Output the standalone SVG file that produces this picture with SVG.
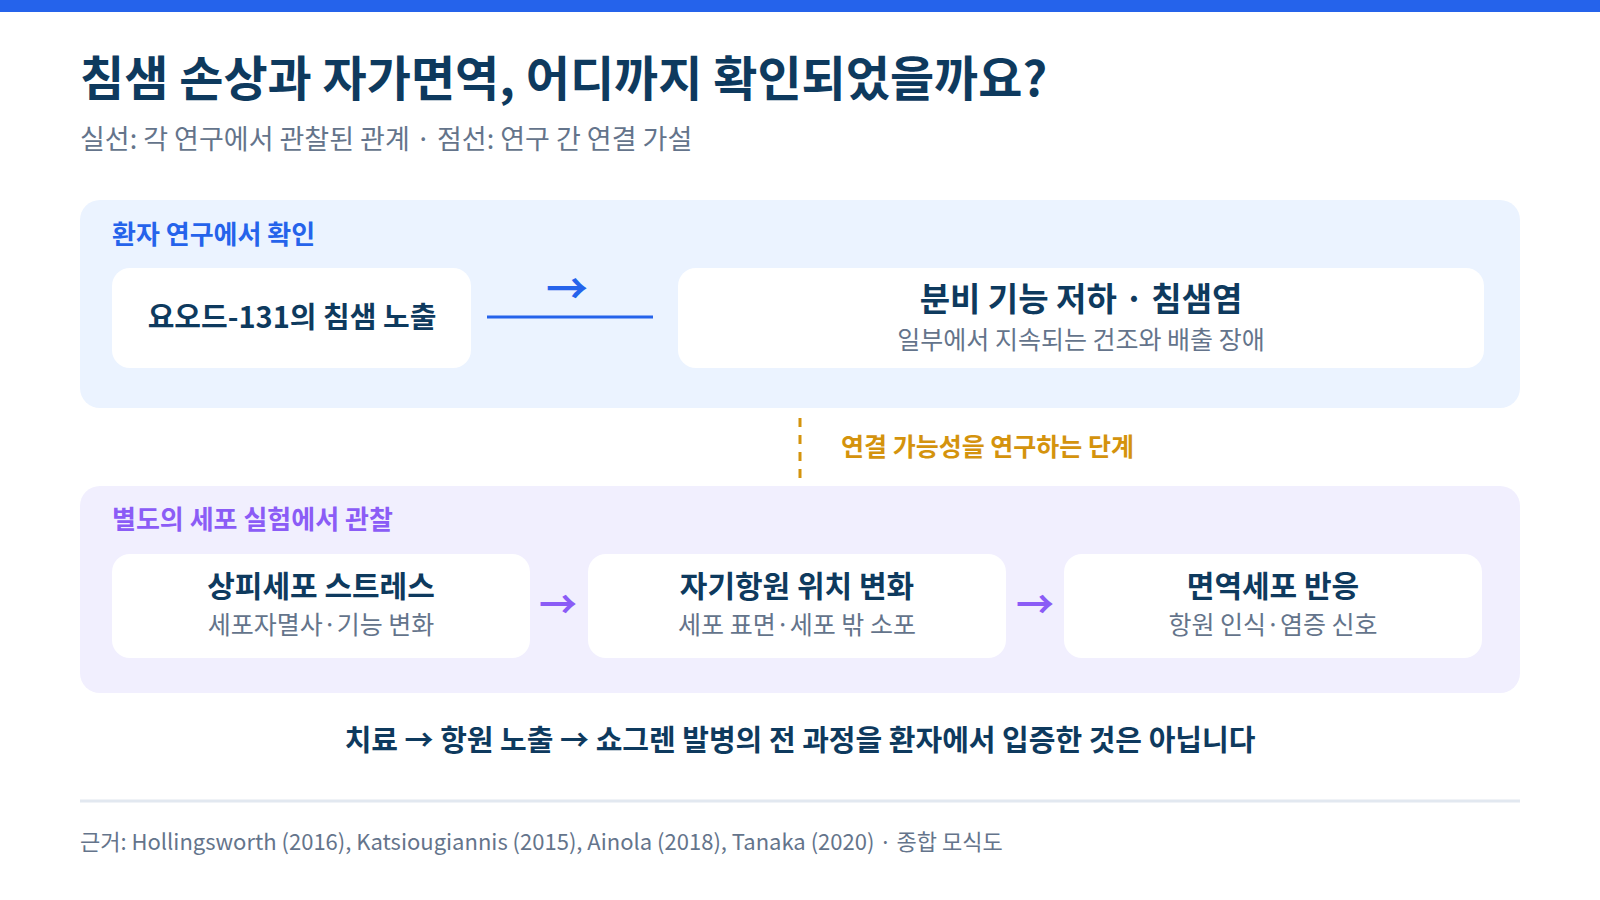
<svg xmlns="http://www.w3.org/2000/svg" width="1600" height="900" viewBox="0 0 1600 900">
  <style>
    text { font-family: "Noto Sans CJK KR", "Noto Sans", sans-serif; }
    .navy { fill: #0E3A5E; }
    .gray { fill: #64748B; }
    .b { font-weight: 700; }
    .node { fill: #FFFFFF; }
    .ntitle { font-size: 30px; font-weight: 700; fill: #0E3A5E; text-anchor: middle; }
    .nsub { font-size: 25px; font-weight: 400; fill: #64748B; text-anchor: middle; }
    .plabel { font-size: 26px; font-weight: 700; }
  </style>
  <rect x="0" y="0" width="1600" height="900" fill="#FFFFFF"/>
  <rect x="0" y="0" width="1600" height="12" fill="#2563EB"/>

  <text x="80" y="96" font-size="48" class="navy b">침샘 손상과 자가면역, 어디까지 확인되었을까요?</text>
  <text x="80" y="149" font-size="27" class="gray">실선: 각 연구에서 관찰된 관계 · 점선: 연구 간 연결 가설</text>

  <g id="panel-patient">
    <rect x="80" y="200" width="1440" height="208" rx="20" fill="#EBF3FF"/>
    <text x="112" y="244" class="plabel" fill="#2563EB">환자 연구에서 확인</text>
  </g>

  <g id="node-exposure">
    <rect class="node" x="112" y="268" width="359" height="100" rx="18"/>
    <text x="292" y="328" class="ntitle" style="font-size:29px">요오드-131의 침샘 노출</text>
  </g>

  <g id="node-dysfunction">
    <rect class="node" x="678" y="268" width="806" height="100" rx="18"/>
    <text x="1081" y="311" class="ntitle" style="font-size:33px">분비 기능 저하 · 침샘염</text>
    <text x="1081" y="349" class="nsub">일부에서 지속되는 건조와 배출 장애</text>
  </g>

  <g id="panel-cell">
    <rect x="80" y="486" width="1440" height="207" rx="20" fill="#F1EFFE"/>
    <text x="112" y="529" class="plabel" fill="#8B5CF6">별도의 세포 실험에서 관찰</text>
  </g>

  <g id="node-stress">
    <rect class="node" x="112" y="554" width="418" height="104" rx="18"/>
    <text x="321" y="597" class="ntitle">상피세포 스트레스</text>
    <text x="321" y="634" class="nsub">세포자멸사·기능 변화</text>
  </g>

  <g id="node-antigen">
    <rect class="node" x="588" y="554" width="418" height="104" rx="18"/>
    <text x="797" y="597" class="ntitle">자기항원 위치 변화</text>
    <text x="797" y="634" class="nsub">세포 표면·세포 밖 소포</text>
  </g>

  <g id="node-immune">
    <rect class="node" x="1064" y="554" width="418" height="104" rx="18"/>
    <text x="1273" y="597" class="ntitle">면역세포 반응</text>
    <text x="1273" y="634" class="nsub">항원 인식·염증 신호</text>
  </g>

  <g id="connectors">
    <line x1="487" y1="317" x2="653" y2="317" stroke="#2563EB" stroke-width="3"/>
    <text x="567" y="304" font-size="42" font-weight="700" fill="#2563EB" text-anchor="middle">→</text>
    <line x1="800" y1="418" x2="800" y2="478" stroke="#D4930D" stroke-width="3" stroke-dasharray="9 8"/>
    <text x="841" y="456" class="plabel" style="font-size:25px" fill="#D4930D">연결 가능성을 연구하는 단계</text>
    <text x="558" y="618" font-size="38" font-weight="700" fill="#8B5CF6" text-anchor="middle">→</text>
    <text x="1035" y="618" font-size="38" font-weight="700" fill="#8B5CF6" text-anchor="middle">→</text>
  </g>

  <text x="800" y="751" font-size="29" text-anchor="middle" class="navy b">치료 → 항원 노출 → 쇼그렌 발병의 전 과정을 환자에서 입증한 것은 아닙니다</text>
  <line x1="80" y1="801" x2="1520" y2="801" stroke="#E2E8F0" stroke-width="3"/>
  <text x="80" y="850" font-size="22" class="gray">근거: Hollingsworth (2016), Katsiougiannis (2015), Ainola (2018), Tanaka (2020) · 종합 모식도</text>
</svg>
